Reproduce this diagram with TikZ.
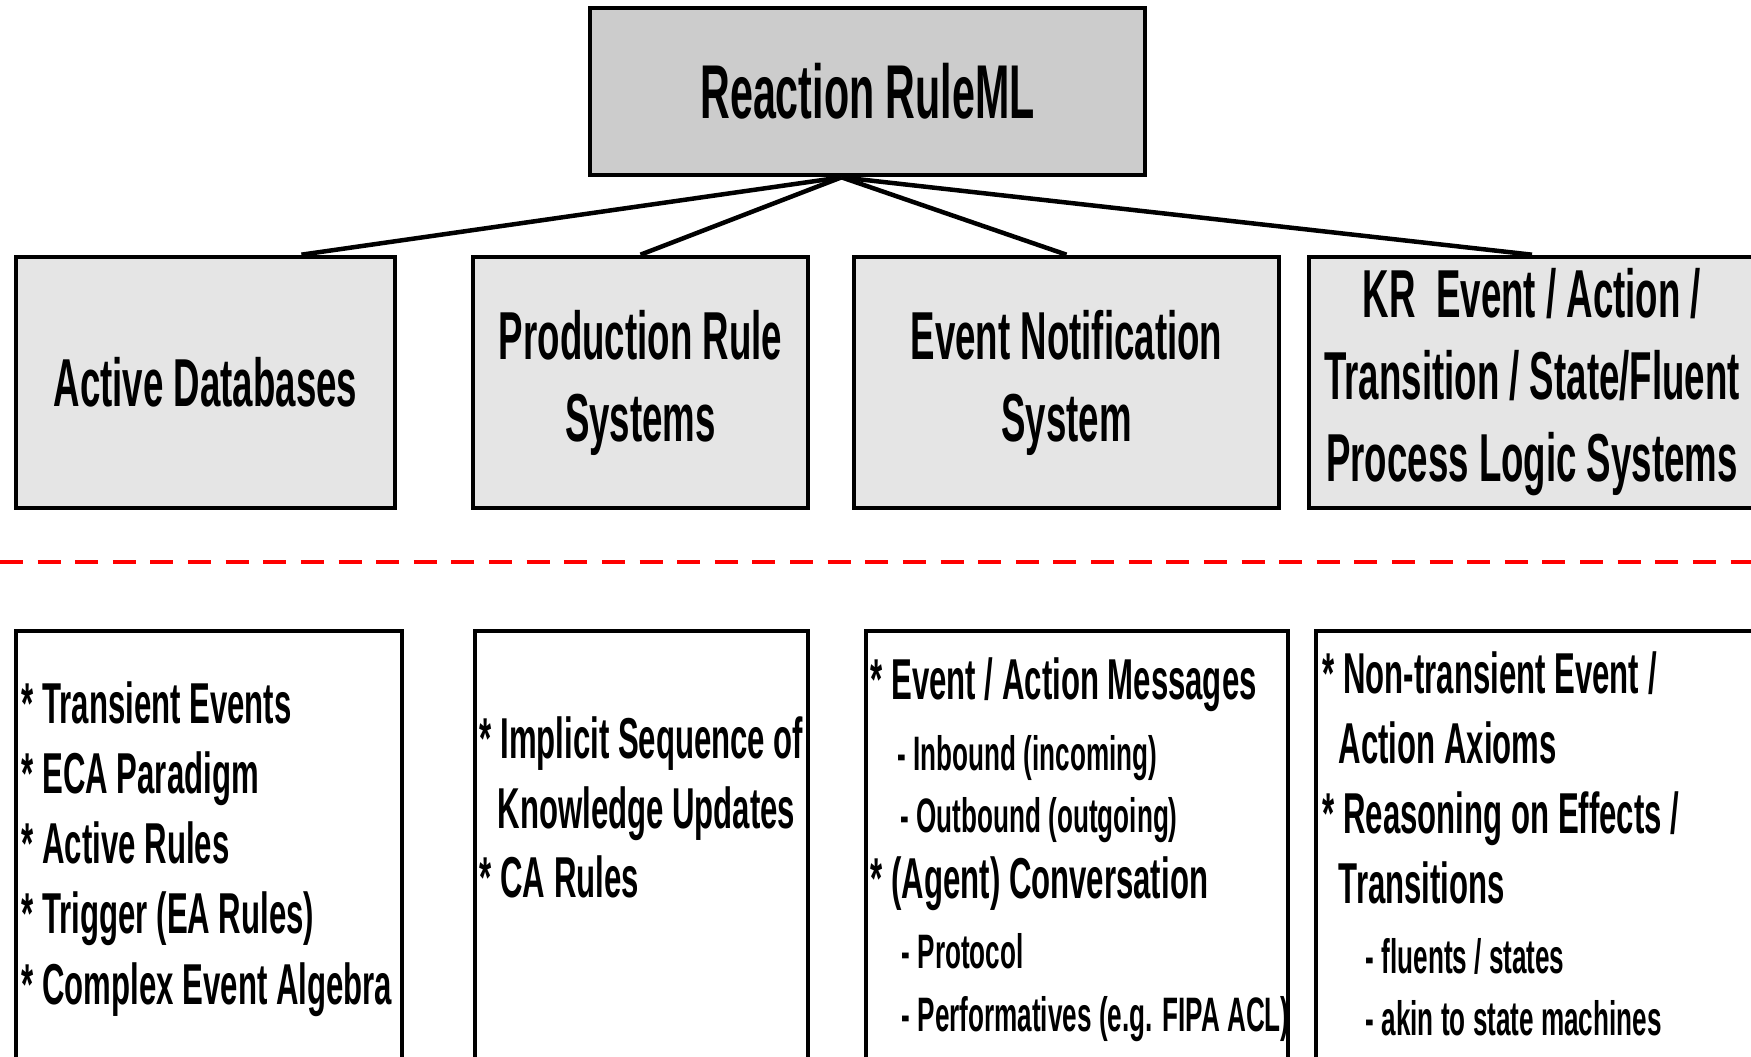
\documentclass[tikz,border=0pt]{standalone}
\usepackage{fontspec}
\setmainfont[FakeStretch=0.54]{Liberation Sans}
\usetikzlibrary{calc}

\begin{document}
\begin{tikzpicture}[x=0.01cm,y=-0.01cm,
  box/.style={draw,line width=0.045cm,inner sep=0pt},
  head/.style={box,fill=gray!40,minimum width=5.55cm,minimum height=1.67cm,
    font=\bfseries\fontsize{21.7}{26}\selectfont},
  family/.style={box,fill=gray!20,minimum height=2.51cm,align=center,
    font=\bfseries\fontsize{19.3}{23.3}\selectfont},
  detail/.style={box,fill=white,minimum height=5cm},
  item/.style={anchor=base west,inner sep=0pt,font=\bfseries\fontsize{16.4}{19}\selectfont},
  sub/.style={anchor=base west,inner sep=0pt,font=\bfseries\fontsize{13.75}{17}\selectfont},
  link/.style={line width=0.045cm},
  sep/.style={red,line width=0.045cm,dash pattern=on 0.23cm off 0.146cm}]

\useasboundingbox (0,0) rectangle (1751,1056);
\clip (0,0) rectangle (1751,1056);

%Reaction RuleML
\node[head] (root) at (867.5,91.5) {Reaction RuleML};

%Families
\node[family,minimum width=3.79cm] (adb) at (205.5,382.5) {Active Databases};
\node[family,minimum width=3.35cm] (prs) at (640.5,382.5) {Production Rule\\Systems};
\node[family,minimum width=4.25cm] (ens) at (1066.5,382.5) {Event Notification\\System};
\node[family,minimum width=4.46cm] (kr) at (1532,382.5)
  {KR\ \ Event / Action /\\Transition / State/Fluent\\Process Logic Systems};

\coordinate (hub) at ($(root.south)+(-26,0)$);
\draw[link] (hub) -- ($(adb.north west)!0.75!(adb.north east)$);
\draw[link] (hub) -- (prs.north);
\draw[link] (hub) -- (ens.north);
\draw[link] (hub) -- (kr.north);

%Separator
\coordinate (sepl) at (0,562);
\coordinate (sepr) at (1751,562);
\draw[sep] (sepl) -- (sepr);

%%%%%%%%%%%%%%%%%Active Databases%%%%%%%%%%%%%%
\node[detail,minimum width=3.86cm] (adbx) at (209,881) {};
\node[item] (adb1) at (21,723) {* Transient Events};
\node[item] (adb2) at (21,793) {* ECA Paradigm};
\node[item] (adb3) at (21,863) {* Active Rules};
\node[item] (adb4) at (21,933) {* Trigger (EA Rules)};
\node[item] (adb5) at (21,1004) {* Complex Event Algebra};

%%%%%%%%%%%%%%%%%Production Rules%%%%%%%%%%%%%%
\node[detail,minimum width=3.33cm] (prsx) at (641.5,881) {};
\node[item] (prs1) at (479,758) {* Implicit Sequence of};
\node[item] (prs2) at (497,828) {Knowledge Updates};
\node[item] (prs3) at (479,897) {* CA Rules};

%%%%%%%%%%%%%%%%%Event Notification%%%%%%%%%%%%%%
\node[detail,minimum width=4.22cm] (ensx) at (1077,881) {};
\node[item] (ens1) at (870,699) {* Event / Action Messages};
\node[sub] (ens2) at (897,770) {- Inbound (incoming)};
\node[sub] (ens3) at (900,832) {- Outbound (outgoing)};
\node[item] (ens4) at (870,898) {* (Agent) Conversation};
\node[sub] (ens5) at (901,968) {- Protocol};
\node[sub] (ens6) at (901,1031) {- Performatives (e.g. FIPA ACL)};

%%%%%%%%%%%%%%%%%KR Systems%%%%%%%%%%%%%%
\node[detail,minimum width=4.82cm] (krx) at (1557,881) {};
\node[item] (kr1) at (1322,693) {* Non-transient Event /};
\node[item] (kr2) at (1338,763) {Action Axioms};
\node[item] (kr3) at (1322,833) {* Reasoning on Effects /};
\node[item] (kr4) at (1338,903) {Transitions};
\node[sub] (kr5) at (1365,973) {- fluents / states};
\node[sub] (kr6) at (1365,1035) {- akin to state machines};

\end{tikzpicture}
\end{document}
